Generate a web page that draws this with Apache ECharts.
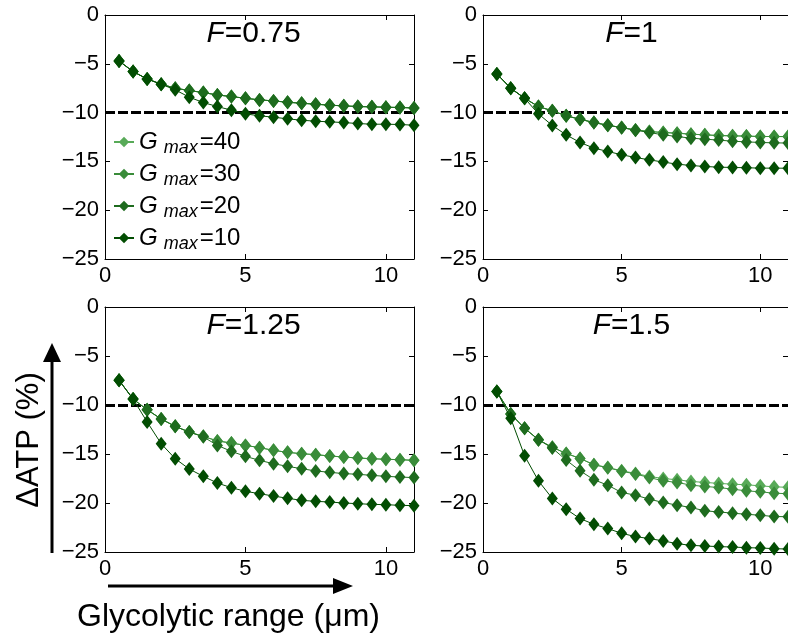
<!DOCTYPE html>
<html>
<head>
<meta charset="utf-8">
<script src="https://cdn.jsdelivr.net/npm/echarts@6/dist/echarts.min.js"></script>
<style>html,body{margin:0;padding:0;background:#fff;}#c{width:788px;height:637px;}</style>
</head>
<body>
<div id="c"></div>
<script>
// ---------- data ----------
const xValues = [0.5,1,1.5,2,2.5,3,3.5,4,4.5,5,5.5,6,6.5,7,7.5,8,8.5,9,9.5,10,10.5,11];
const gmaxNames = ['Gmax=40','Gmax=30','Gmax=20','Gmax=10'];
const gmaxLabels = ['40','30','20','10'];
const panelTitles = ['0.75','1','1.25','1.5'];
const xTicks = [0,5,10];
const yTicks = [0,-5,-10,-15,-20,-25];
const threshold = -10;

// F = 0.75
const f075_g40 = [-4.71,-5.8,-6.55,-7.09,-7.5,-7.74,-7.95,-8.19,-8.36,-8.53,-8.7,-8.8,-8.94,-9.04,-9.14,-9.24,-9.31,-9.38,-9.41,-9.45,-9.48,-9.52];
const f075_g30 = [-4.71,-5.8,-6.55,-7.09,-7.5,-7.74,-7.95,-8.19,-8.36,-8.53,-8.7,-8.8,-8.94,-9.04,-9.14,-9.24,-9.31,-9.38,-9.41,-9.45,-9.48,-9.52];
const f075_g20 = [-4.71,-5.8,-6.55,-7.09,-7.5,-7.74,-7.95,-8.19,-8.36,-8.53,-8.7,-8.8,-8.94,-9.04,-9.14,-9.24,-9.31,-9.38,-9.41,-9.45,-9.48,-9.52];
const f075_g10 = [-4.71,-5.8,-6.55,-7.09,-7.67,-8.42,-8.97,-9.38,-9.75,-10.13,-10.33,-10.47,-10.64,-10.78,-10.88,-10.95,-11.02,-11.12,-11.19,-11.19,-11.22,-11.29];
// F = 1
const f1_g40 = [-6.04,-7.5,-8.53,-9.38,-9.82,-10.33,-10.68,-11.02,-11.29,-11.53,-11.77,-11.94,-12.04,-12.11,-12.21,-12.28,-12.35,-12.38,-12.41,-12.45,-12.45,-12.46];
const f1_g30 = [-6.04,-7.5,-8.53,-9.38,-9.82,-10.33,-10.68,-11.02,-11.29,-11.53,-11.77,-11.94,-12.04,-12.11,-12.21,-12.28,-12.35,-12.38,-12.41,-12.45,-12.45,-12.46];
const f1_g20 = [-6.04,-7.5,-8.53,-9.38,-9.82,-10.33,-10.68,-11.02,-11.3,-11.55,-11.8,-12.04,-12.28,-12.45,-12.62,-12.72,-12.82,-12.93,-13.0,-13.06,-13.1,-13.12];
const f1_g10 = [-6.04,-7.5,-8.53,-10.13,-11.32,-12.28,-13.06,-13.64,-13.98,-14.32,-14.6,-14.84,-15.07,-15.28,-15.42,-15.52,-15.59,-15.62,-15.65,-15.69,-15.69,-15.7];
// F = 1.25
const f125_g40 = [-7.48,-9.39,-10.48,-11.43,-12.18,-12.76,-13.2,-13.67,-13.88,-14.12,-14.35,-14.63,-14.83,-14.97,-15.07,-15.2,-15.31,-15.41,-15.48,-15.54,-15.58,-15.65];
const f125_g30 = [-7.48,-9.39,-10.48,-11.43,-12.18,-12.76,-13.2,-13.67,-13.88,-14.12,-14.35,-14.63,-14.83,-14.97,-15.07,-15.2,-15.31,-15.41,-15.48,-15.54,-15.58,-15.65];
const f125_g20 = [-7.48,-9.39,-10.48,-11.43,-12.18,-12.76,-13.25,-14.12,-14.73,-15.24,-15.65,-15.99,-16.26,-16.5,-16.73,-16.87,-17.0,-17.07,-17.18,-17.28,-17.35,-17.41];
const f125_g10 = [-7.48,-9.39,-11.73,-13.95,-15.48,-16.53,-17.28,-17.96,-18.44,-18.81,-19.05,-19.29,-19.52,-19.73,-19.83,-19.9,-20.0,-20.07,-20.14,-20.17,-20.24,-20.27];
// F = 1.5
const f15_g40 = [-8.63,-10.91,-12.38,-13.54,-14.32,-14.94,-15.45,-16.1,-16.37,-16.71,-16.98,-17.29,-17.5,-17.63,-17.8,-17.9,-18.0,-18.08,-18.14,-18.25,-18.35,-18.4];
const f15_g30 = [-8.63,-10.91,-12.38,-13.54,-14.32,-14.94,-15.45,-16.1,-16.4,-16.75,-17.05,-17.4,-17.74,-17.9,-18.18,-18.31,-18.42,-18.59,-18.76,-18.86,-19.0,-19.05];
const f15_g20 = [-8.63,-10.91,-12.38,-13.54,-14.4,-15.62,-16.71,-17.63,-18.18,-18.93,-19.2,-19.61,-19.95,-20.22,-20.46,-20.8,-20.91,-21.04,-21.15,-21.25,-21.38,-21.4];
const f15_g10 = [-8.63,-11.36,-15.18,-17.74,-19.54,-20.63,-21.59,-22.17,-22.61,-23.09,-23.43,-23.63,-23.87,-24.15,-24.32,-24.39,-24.45,-24.49,-24.56,-24.59,-24.66,-24.7];

const panelData = [
  [f075_g40, f075_g30, f075_g20, f075_g10],
  [f1_g40, f1_g30, f1_g20, f1_g10],
  [f125_g40, f125_g30, f125_g20, f125_g10],
  [f15_g40, f15_g30, f15_g20, f15_g10]
];

// ---------- styling / layout ----------
const FONT = '"Liberation Sans", Arial, Helvetica, sans-serif';
const colors = ['#58aa58', '#3a8c3a', '#1e6b1e', '#024d02'];
const grids = [
  {left: 105, top: 15, width: 309, height: 244},
  {left: 483, top: 15, width: 309, height: 244},
  {left: 105, top: 307, width: 309, height: 245},
  {left: 483, top: 307, width: 309, height: 245}
];
const minus = v => String(v).replace('-', '\u2212');

const xAxes = [], yAxes = [], series = [], graphics = [];
grids.forEach((g, i) => {
  const base = {
    gridIndex: i, type: 'value', min: 0, max: 11,
    splitLine: {show: false},
    axisLine: {show: true, onZero: false, lineStyle: {color: '#000', width: 1}},
    axisTick: {show: true, inside: true, length: 5, customValues: xTicks, lineStyle: {color: '#000'}}
  };
  xAxes.push(Object.assign({}, base, {
    position: 'bottom',
    axisLabel: {show: true, customValues: xTicks, margin: 6, color: '#000', fontSize: 22, fontFamily: FONT, formatter: minus}
  }));
  xAxes.push(Object.assign({}, base, {position: 'top', axisLabel: {show: false}}));
  const ybase = {
    gridIndex: i, type: 'value', min: -25, max: 0, interval: 5,
    splitLine: {show: false},
    axisLine: {show: true, onZero: false, lineStyle: {color: '#000', width: 1}},
    axisTick: {show: true, inside: true, length: 5, customValues: yTicks, lineStyle: {color: '#000'}}
  };
  yAxes.push(Object.assign({}, ybase, {
    position: 'left',
    axisLabel: {show: true, customValues: yTicks, margin: 6, color: '#000', fontSize: 22, fontFamily: FONT, formatter: minus}
  }));
  yAxes.push(Object.assign({}, ybase, {position: 'right', axisLabel: {show: false}}));

  panelData[i].forEach((vals, k) => {
    const s = {
      name: gmaxNames[k], type: 'line',
      xAxisIndex: i * 2, yAxisIndex: i * 2,
      data: xValues.map((x, j) => [x, vals[j]]),
      symbol: 'diamond', symbolSize: [11, 14],
      showSymbol: true, clip: false, animation: false,
      lineStyle: {color: colors[k], width: 1},
      itemStyle: {color: colors[k], borderColor: colors[k], borderWidth: 0},
      z: 3 + k
    };
    if (k === 0) {
      s.markLine = {
        silent: true, symbol: ['none', 'none'], z: 2, animation: false,
        label: {show: false},
        lineStyle: {color: '#000', type: [10, 3], width: 3},
        data: [{yAxis: threshold}]
      };
    }
    series.push(s);
  });

  graphics.push({
    type: 'text',
    x: g.left + g.width / 2 - 6, y: g.top + 4,
    style: {
      text: '{i|F}{n|=' + panelTitles[i] + '}',
      align: 'center', verticalAlign: 'top',
      rich: {
        i: {fontStyle: 'italic', fontSize: 30, fontFamily: FONT, fill: '#000'},
        n: {fontSize: 30, fontFamily: FONT, fill: '#000'}
      }
    }
  });
});

// axis titles and arrows
graphics.push({
  type: 'text', x: 29, y: 440, rotation: Math.PI / 2,
  style: {text: '\u0394ATP (%)', align: 'center', verticalAlign: 'middle', fontSize: 31, fontFamily: FONT, fill: '#000'}
});
graphics.push({
  type: 'text', x: 77, y: 617,
  style: {text: 'Glycolytic range (\u03bcm)', align: 'left', verticalAlign: 'middle', fontSize: 32, fontFamily: FONT, fill: '#000'}
});
graphics.push({type: 'line', shape: {x1: 52, y1: 553, x2: 52, y2: 360}, style: {stroke: '#000', lineWidth: 3}});
graphics.push({type: 'polygon', shape: {points: [[52, 343], [43, 362], [61, 362]]}, style: {fill: '#000'}});
graphics.push({type: 'line', shape: {x1: 108, y1: 586, x2: 335, y2: 586}, style: {stroke: '#000', lineWidth: 3}});
graphics.push({type: 'polygon', shape: {points: [[353, 586], [333, 578], [333, 594]]}, style: {fill: '#000'}});

const option = {
  animation: false,
  backgroundColor: '#fff',
  grid: grids,
  xAxis: xAxes,
  yAxis: yAxes,
  legend: {
    data: gmaxNames,
    orient: 'vertical',
    left: 113, top: 130,
    itemWidth: 20, itemHeight: 13, itemGap: 5,
    padding: 0,
    formatter: name => '{g|G}{s|max}{n|=' + gmaxLabels[gmaxNames.indexOf(name)] + '}',
    textStyle: {
      color: '#000', fontFamily: FONT,
      rich: {
        g: {fontStyle: 'italic', fontSize: 24, fontFamily: FONT, color: '#000', lineHeight: 30},
        s: {fontStyle: 'italic', fontSize: 18, fontFamily: FONT, color: '#000', lineHeight: 15, verticalAlign: 'bottom', padding: [0, 2, 0, 6]},
        n: {fontSize: 24, fontFamily: FONT, color: '#000', lineHeight: 30}
      }
    },
    selectedMode: false
  },
  graphic: graphics,
  series: series
};

const chart = echarts.init(document.getElementById('c'), null, {renderer: 'canvas'});
chart.setOption(option);
</script>
</body>
</html>
